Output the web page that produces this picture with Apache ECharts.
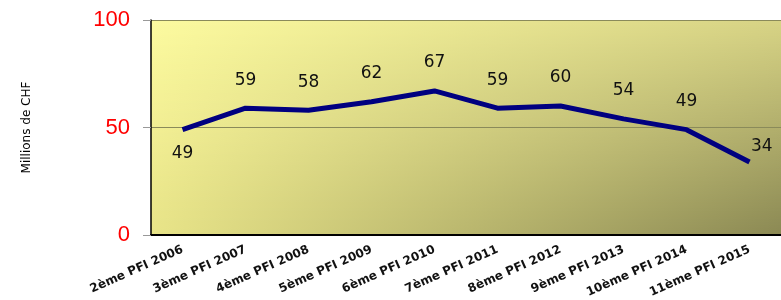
<!DOCTYPE html>
<html>
<head>
<meta charset="utf-8">
<script src="https://cdn.jsdelivr.net/npm/echarts@6/dist/echarts.min.js"></script>
<style>
  html, body { margin: 0; padding: 0; background: #fff; }
  #box { width: 781px; height: 300px; }
</style>
</head>
<body>
<div id="box"></div>
<script>
// categories and values
var categories = ['2ème PFI 2006', '3ème PFI 2007', '4ème PFI 2008', '5ème PFI 2009', '6ème PFI 2010',
                  '7ème PFI 2011', '8ème PFI 2012', '9ème PFI 2013', '10ème PFI 2014', '11ème PFI 2015'];
var values = [49, 59, 58, 62, 67, 59, 60, 54, 49, 34];
var yTicks = [0, 50, 100];

var chart = echarts.init(document.getElementById('box'));

// plot box (px), the right part runs past the window like in the original
var G = { left: 151, top: 20, width: 650, height: 215 };

// corner colours of the plot fill: top-left, top-right, bottom-left, bottom-right
var cTL = [252, 250, 159], cTR = [214, 210, 132], cBL = [232, 228, 136], cBR = [136, 134, 82];
function mix(a, b, t) {
    return [0, 1, 2].map(function (k) { return a[k] + (b[k] - a[k]) * t; });
}
function rgb(c) { return 'rgb(' + c.map(Math.round).join(',') + ')'; }

// one thin strip per pixel row, each a horizontal gradient -> bilinear fill
var bands = [];
for (var r = 0; r < G.height; r++) {
    var t = r / (G.height - 1);
    var left = mix(cTL, cBL, t), right = mix(cTR, cBR, t);
    bands.push({
        type: 'rect',
        z: -10,
        silent: true,
        shape: { x: G.left, y: G.top + r, width: G.width, height: 1.2 },
        style: {
            fill: new echarts.graphic.LinearGradient(0, 0, 1, 0, [
                { offset: 0, color: rgb(left) },
                { offset: 1, color: rgb(right) }
            ])
        }
    });
}

// label placement like the original: first below, last up and to the right
var seriesData = values.map(function (v, i) {
    var item = { value: v };
    if (i === 0) item.label = { position: 'bottom', distance: 15 };
    if (i === values.length - 1) item.label = { position: 'right', distance: 1, offset: [0, -15] };
    return item;
});

var option = {
    backgroundColor: '#ffffff',
    animation: false,
    graphic: { elements: bands },
    grid: {
        left: G.left,
        top: G.top,
        width: G.width,
        height: G.height,
        show: false
    },
    xAxis: {
        type: 'category',
        data: categories,
        boundaryGap: true,
        axisLine: { lineStyle: { color: '#000', width: 2 } },
        axisTick: { length: 6, lineStyle: { color: '#999' } },
        axisLabel: {
            interval: 0,
            rotate: 24,
            margin: 14,
            color: '#111',
            fontFamily: 'DejaVu Sans',
            fontWeight: 'bold',
            fontSize: 12
        }
    },
    yAxis: {
        type: 'value',
        min: yTicks[0],
        max: yTicks[yTicks.length - 1],
        interval: yTicks[1] - yTicks[0],
        name: 'Millions de CHF',
        nameLocation: 'middle',
        nameGap: 118,
        nameTextStyle: { color: '#000', fontFamily: 'DejaVu Sans', fontSize: 12 },
        axisLine: { show: true, lineStyle: { color: '#000', width: 1.5 } },
        axisTick: { show: true, length: 8, lineStyle: { color: '#999' } },
        axisLabel: {
            color: '#ff0000',
            fontFamily: 'Liberation Sans',
            fontSize: 22,
            margin: 21
        },
        splitLine: { lineStyle: { color: '#8a8a5a', width: 1 } }
    },
    series: [{
        type: 'line',
        data: seriesData,
        symbol: 'circle',
        symbolSize: 1,
        showSymbol: true,
        itemStyle: { color: 'rgba(0,0,0,0)' },
        lineStyle: { color: '#000080', width: 5 },
        label: {
            show: true,
            position: 'top',
            distance: 19,
            color: '#111',
            fontFamily: 'DejaVu Sans',
            fontSize: 17
        }
    }]
};

chart.setOption(option);
</script>
</body>
</html>
